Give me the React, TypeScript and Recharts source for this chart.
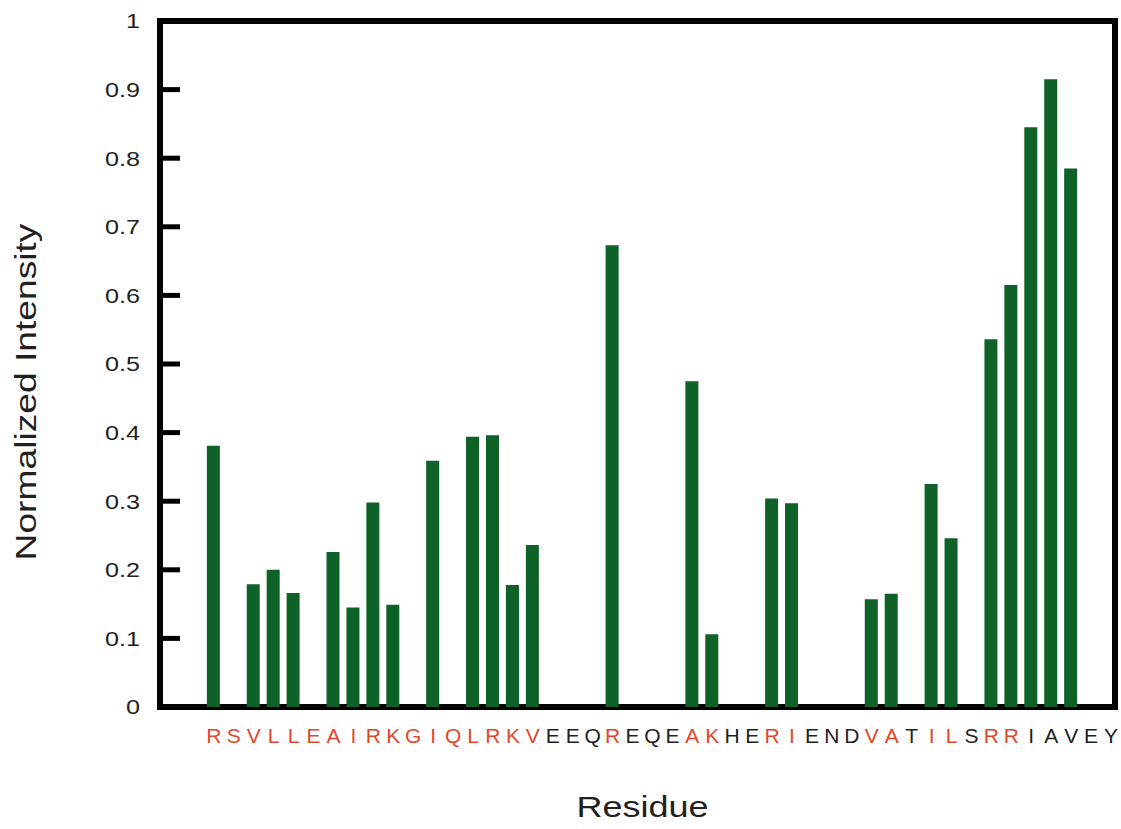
import { BarChart, Bar, XAxis, YAxis, ReferenceArea, Label } from "recharts";

const FONT = "'Liberation Sans', Arial, Helvetica, sans-serif";
const INK = "#231f20";
const RED = "#e2472b";
const GREEN = "#0e6127";

// peptide sequence along the x axis
const residues = [
  "R", "S", "V", "L", "L", "E", "A", "I", "R", "K", "G", "I", "Q", "L", "R", "K", "V",
  "E", "E", "Q", "R", "E", "Q", "E", "A", "K", "H", "E", "R", "I", "E", "N", "D",
  "V", "A", "T", "I", "L", "S", "R", "R", "I", "A", "V", "E", "Y",
];

// 1 = residue label printed in red
const highlighted = [
  1, 1, 1, 1, 1, 1, 1, 1, 1, 1, 1, 1, 1, 1, 1, 1, 1,
  0, 0, 0, 1, 0, 0, 0, 1, 1, 0, 0, 1, 1, 0, 0, 0,
  1, 1, 0, 1, 1, 0, 1, 1, 0, 0, 0, 0, 0,
];

// normalized intensity per residue (null = no bar)
const intensity = [
  0.381, null, 0.179, 0.2, 0.166, null, 0.226, 0.145, 0.298, 0.149, null, 0.359, null, 0.394, 0.396, 0.178, 0.236,
  null, null, null, 0.673, null, null, null, 0.475, 0.106, null, null, 0.304, 0.297, null, null, null,
  0.157, 0.165, null, 0.325, 0.246, null, 0.536, 0.615, 0.845, 0.915, 0.785, null, null,
];

const yTicks = [0, 0.1, 0.2, 0.3, 0.4, 0.5, 0.6, 0.7, 0.8, 0.9, 1];
const X_DOMAIN: [number, number] = [-2.7, 45.2];

const data = residues.map((residue, i) => ({
  pos: i,
  residue,
  intensity: intensity[i],
}));

const ResidueTick = ({ x, y, payload }: any) => {
  const i = payload.value;
  return (
    <text
      x={x}
      y={y}
      dy="0.71em"
      textAnchor="middle"
      fontSize={21}
      fontFamily={FONT}
      fill={highlighted[i] ? RED : INK}
    >
      {residues[i]}
    </text>
  );
};

// the original figure's numbers/titles are a bit wide, so stretch them horizontally
const ValueTick = ({ x, y, payload }: any) => (
  <text
    transform={`translate(${x} ${y}) scale(1.2 1)`}
    dy="0.355em"
    textAnchor="end"
    fontSize={21}
    fontFamily={FONT}
    fill={INK}
  >
    {String(payload.value)}
  </text>
);

export default function App() {
  return (
    <div style={{ position: "absolute", left: 0, top: 0 }}>
      <BarChart
        width={1121}
        height={829}
        data={data}
        margin={{ top: 21, right: 6, bottom: 62, left: 0 }}
      >
        <XAxis
          dataKey="pos"
          type="number"
          domain={X_DOMAIN}
          allowDataOverflow
          ticks={data.map((d) => d.pos)}
          interval={0}
          height={60}
          axisLine={false}
          tickLine={false}
          tickSize={0}
          tickMargin={21}
          tick={<ResidueTick />}
        >
          <Label
            content={({ viewBox }: any) => (
              <text
                transform={`translate(${viewBox.x + viewBox.width / 2 + 5} 817) scale(1.2 1)`}
                textAnchor="middle"
                fontSize={30}
                fontFamily={FONT}
                fill={INK}
              >
                Residue
              </text>
            )}
          />
        </XAxis>
        <YAxis
          domain={[0, 1]}
          ticks={yTicks}
          interval={0}
          width={160}
          axisLine={false}
          tickSize={-20}
          tickMargin={40}
          tickLine={{ stroke: "#000", strokeWidth: 5 }}
          tick={<ValueTick />}
        >
          <Label
            content={({ viewBox }: any) => {
              const cx = 36;
              const cy = viewBox.y + viewBox.height / 2 + 28;
              return (
                <text
                  transform={`translate(${cx} ${cy}) rotate(-90) scale(1.24 1)`}
                  textAnchor="middle"
                  fontSize={30}
                  fontFamily={FONT}
                  fill={INK}
                >
                  Normalized Intensity
                </text>
              );
            }}
          />
        </YAxis>
        <Bar dataKey="intensity" fill={GREEN} barSize={13} isAnimationActive={false} />
        <ReferenceArea
          x1={X_DOMAIN[0]}
          x2={X_DOMAIN[1]}
          y1={0}
          y2={1}
          fill="none"
          fillOpacity={0}
          stroke="#000"
          strokeWidth={6}
          ifOverflow="visible"
        />
      </BarChart>
    </div>
  );
}
